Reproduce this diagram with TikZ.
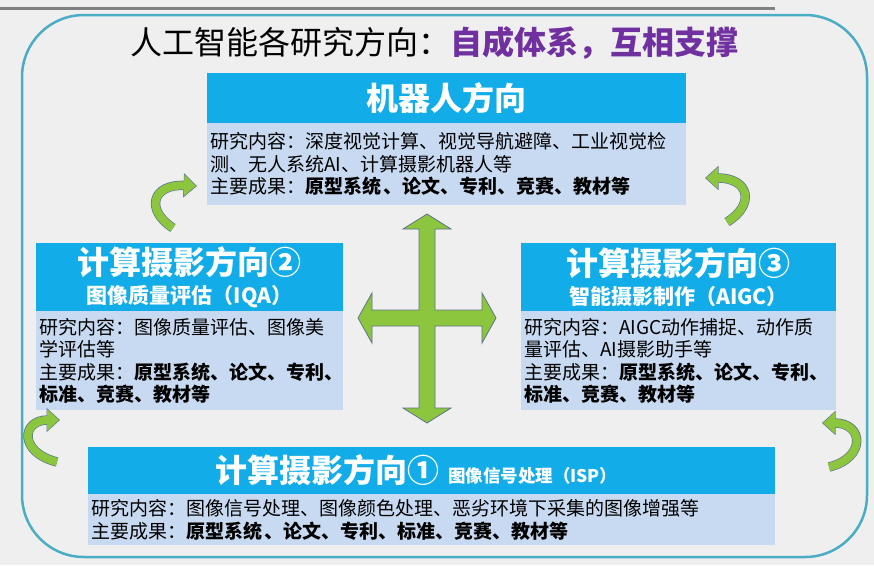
\documentclass[tikz,border=0pt]{standalone}
\usepackage{fontspec}
\setmainfont{Noto Sans CJK SC}
\usetikzlibrary{arrows.meta,positioning}
\definecolor{headblue}{RGB}{18,172,232}
\definecolor{bodyblue}{RGB}{200,218,241}
\definecolor{framecyan}{RGB}{75,172,198}
\definecolor{arrowgreen}{RGB}{140,198,63}
\definecolor{arrowedge}{RGB}{95,115,140}
\definecolor{titlepurple}{RGB}{112,48,160}
\definecolor{pagegray}{RGB}{239,239,239}

\begin{document}
\begin{tikzpicture}[
    x=1pt, y=-1pt,
    headbox/.style={
        rectangle,
        fill=headblue,
        text=white,
        align=center,
        inner sep=0pt,
        font=\bfseries
    },
    bodybox/.style={
        rectangle,
        fill=bodyblue,
        align=left,
        inner xsep=3pt,
        inner ysep=0pt,
        font=\fontsize{19}{22.5}\selectfont
    },
    bendarrow/.style={
        draw=arrowgreen, line width=8pt, -{Triangle[length=12pt,width=21pt]},
        preaction={draw=arrowedge, line width=9.4pt, shorten >=-1pt, -{Triangle[length=13.5pt,width=23.5pt]}}
    },
    crossarrow/.style={fill=arrowgreen, draw=arrowedge, line width=0.8pt, line join=miter}
]

% page and frame
\fill[pagegray] (0,0) rectangle (874,565);
\useasboundingbox (0,0) rectangle (874,565);
\draw[gray, line width=3pt] (0,8) -- (775,8);
\draw[framecyan, line width=2.5pt, rounded corners=62pt] (22,15) rectangle (867,557);

% title
\node[font=\fontsize{32}{34}\selectfont] (title) at (434,43)
    {人工智能各研究方向：\textcolor{titlepurple}{\bfseries 自成体系，互相支撑}};

% top: robot direction
\node[headbox, minimum width=479pt, minimum height=50pt, font=\fontsize{32}{34}\selectfont\bfseries] (robot) at (446.5,98) {机器人方向};
\node[bodybox, below=0pt of robot, text width=473pt, minimum height=82pt] (robotbody)
    {研究内容：深度视觉计算、视觉导航避障、工业视觉检\\
     测、无人系统AI、计算摄影机器人等\\
     主要成果：\textbf{原型系统\kern3pt、论文、专利、竞赛、教材等}};

% left: IQA
\node[headbox, minimum width=307pt, minimum height=68pt] (iqa) at (189.5,277)
    {{\fontsize{32}{34}\selectfont 计算摄影方向②}\\[7pt]
     {\fontsize{21}{25}\selectfont 图像质量评估（IQA）}};
\node[bodybox, below=0pt of iqa, text width=301pt, minimum height=99pt] (iqabody)
    {研究内容：图像质量评估、图像美\\
     学评估等\\
     主要成果：\textbf{原型系统\kern1pt、论文、专利、}\\
     \textbf{标准、竞赛、教材等}};

% right: AIGC
\node[headbox, minimum width=315pt, minimum height=68pt] (aigc) at (678.5,277)
    {{\fontsize{32}{34}\selectfont 计算摄影方向③}\\[7pt]
     {\fontsize{21}{25}\selectfont 智能摄影制作（AIGC）}};
\node[bodybox, below=0pt of aigc, text width=309pt, minimum height=99pt] (aigcbody)
    {研究内容：AIGC动作捕捉、动作质\\
     量评估、AI摄影助手等\\
     主要成果：\textbf{原型系统\kern1pt、论文、专利、}\\
     \textbf{标准、竞赛、教材等}};

% bottom: ISP
\node[headbox, minimum width=687pt, minimum height=47pt, text width=687pt, align=left] (isp) at (431.5,470.5)
    {\hspace*{127pt}\fontsize{32}{34}\selectfont 计算摄影方向①\hspace{9pt}{\fontsize{17.5}{20}\selectfont 图像信号处理（ISP）}};
\node[bodybox, below=0pt of isp, text width=681pt, minimum height=51pt] (ispbody)
    {研究内容：图像信号处理、图像颜色处理、恶劣环境下采集的图像增强等\\
     主要成果：\textbf{原型系统\kern3pt、论文、专利、标准、竞赛、教材等}};

% cross arrow in the middle
\coordinate (hub) at (427,318);
\begin{scope}[shift={(hub)}]
\draw[crossarrow] (0,-104) -- (24,-89) -- (8,-89) -- (8,-8) -- (55,-8) -- (55,-25)
    -- (69,0) -- (55,25) -- (55,8) -- (8,8) -- (8,90) -- (24,90) -- (0,105)
    -- (-24,90) -- (-8,90) -- (-8,8) -- (-55,8) -- (-55,25) -- (-69,0)
    -- (-55,-25) -- (-55,-8) -- (-8,-8) -- (-8,-89) -- (-24,-89) -- cycle;
\end{scope}

% curved arrows
\coordinate (tlfrom) at (173,228);
\coordinate (tlto) at (196,186);
\coordinate (trfrom) at (727,222);
\coordinate (trto) at (706,178);
\coordinate (blfrom) at (57,462);
\coordinate (blto) at (59,420);
\coordinate (brfrom) at (829,467);
\coordinate (brto) at (823,423);

\draw[bendarrow] (tlfrom) .. controls (145,210) and (152,184) .. (tlto);
\draw[bendarrow] (trfrom) .. controls (755,205) and (750,178) .. (trto);
\draw[bendarrow] (blfrom) .. controls (18,452) and (22,420) .. (blto);
\draw[bendarrow] (brfrom) .. controls (866,458) and (864,423) .. (brto);

\end{tikzpicture}
\end{document}
